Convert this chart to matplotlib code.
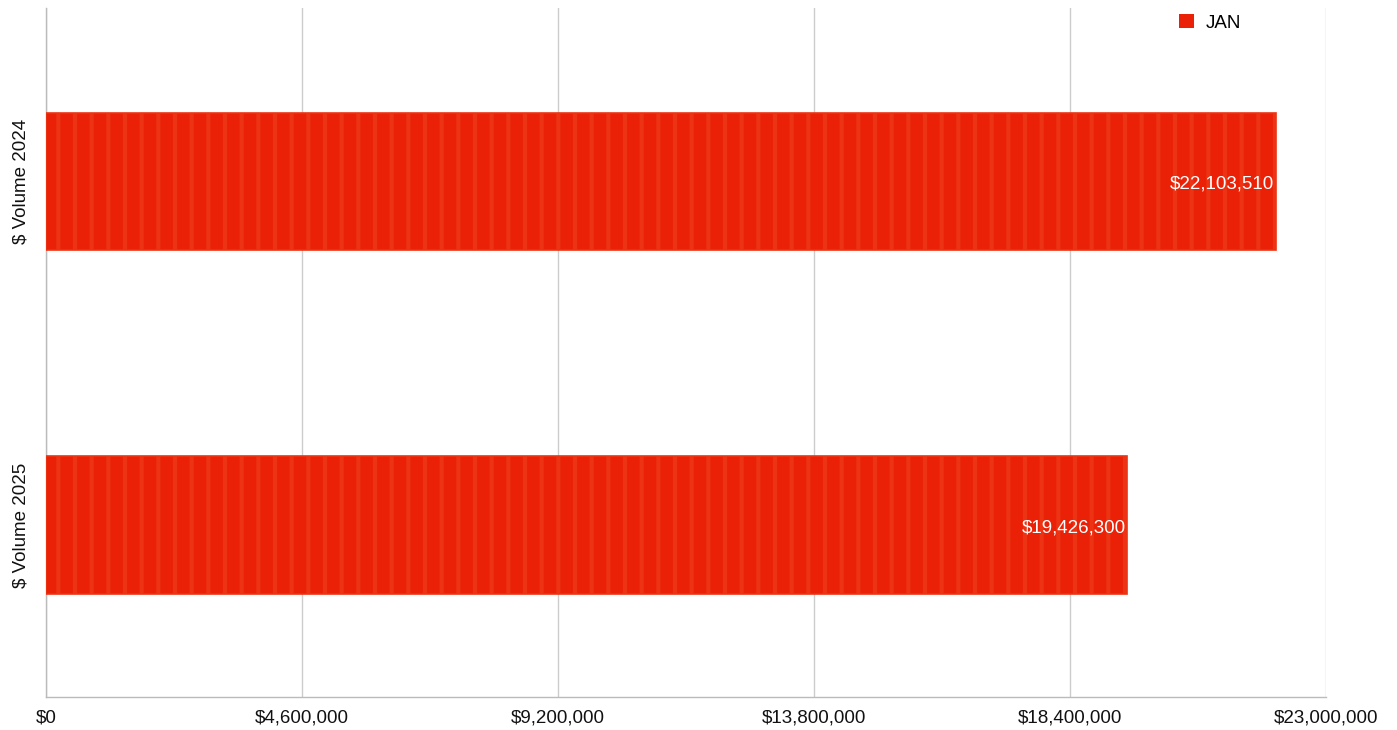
import matplotlib
matplotlib.use("Agg")
import matplotlib.pyplot as plt
from matplotlib.ticker import FuncFormatter
from matplotlib.patches import Patch

categories = ["$ Volume 2024", "$ Volume 2025"]
values = [22103510, 19426300]
series_name = "JAN"
xticks = [0, 4600000, 9200000, 13800000, 18400000, 23000000]

plt.rcParams['font.family'] = ['Liberation Sans', 'DejaVu Sans']
plt.rcParams['hatch.linewidth'] = 3.0

fig = plt.figure(figsize=(13.97, 7.30), dpi=100)
ax = fig.add_axes([46/1397, 33/730, (1326-46)/1397, (697-8)/730])

color = '#EA2107'
pos = list(range(len(categories)))
bars = ax.barh(pos, values, height=0.4, color=color, edgecolor='#EC3313',
               linewidth=1.2, hatch='|', zorder=3)

for p, v in zip(pos, values):
    ax.text(v - 0.0012 * 23000000, p + 0.008, f"${v:,.0f}", ha='right', va='center',
            color='white', fontsize=13.5, zorder=4)

ax.set_xlim(0, 23000000)
ax.set_ylim(1.5, -0.505)
ax.set_xticks(xticks)
ax.xaxis.set_major_formatter(FuncFormatter(lambda x, _: f"${x:,.0f}"))
ax.set_yticks(pos)
ax.set_yticklabels(categories, rotation=90, va='center', fontsize=13.5)
ax.tick_params(axis='x', length=0, pad=9, labelsize=13.5, colors='#111111')
ax.tick_params(axis='y', length=0, pad=12, colors='#111111')

ax.grid(axis='x', color='#cccccc', linewidth=1.0, zorder=0)
ax.set_axisbelow(True)
for s in ['top', 'right']:
    ax.spines[s].set_visible(False)
for s in ['left', 'bottom']:
    ax.spines[s].set_color('#bbbbbb')
    ax.spines[s].set_linewidth(1.0)

handle = Patch(facecolor=color, edgecolor='none', label=series_name)
ax.legend(handles=[handle], loc='upper left', bbox_to_anchor=(1162/1397, 1.004),
          bbox_transform=fig.transFigure, frameon=False, fontsize=13.5,
          handlelength=0.8, handleheight=0.8, handletextpad=0.65)

fig.savefig("out.png", dpi=100)
